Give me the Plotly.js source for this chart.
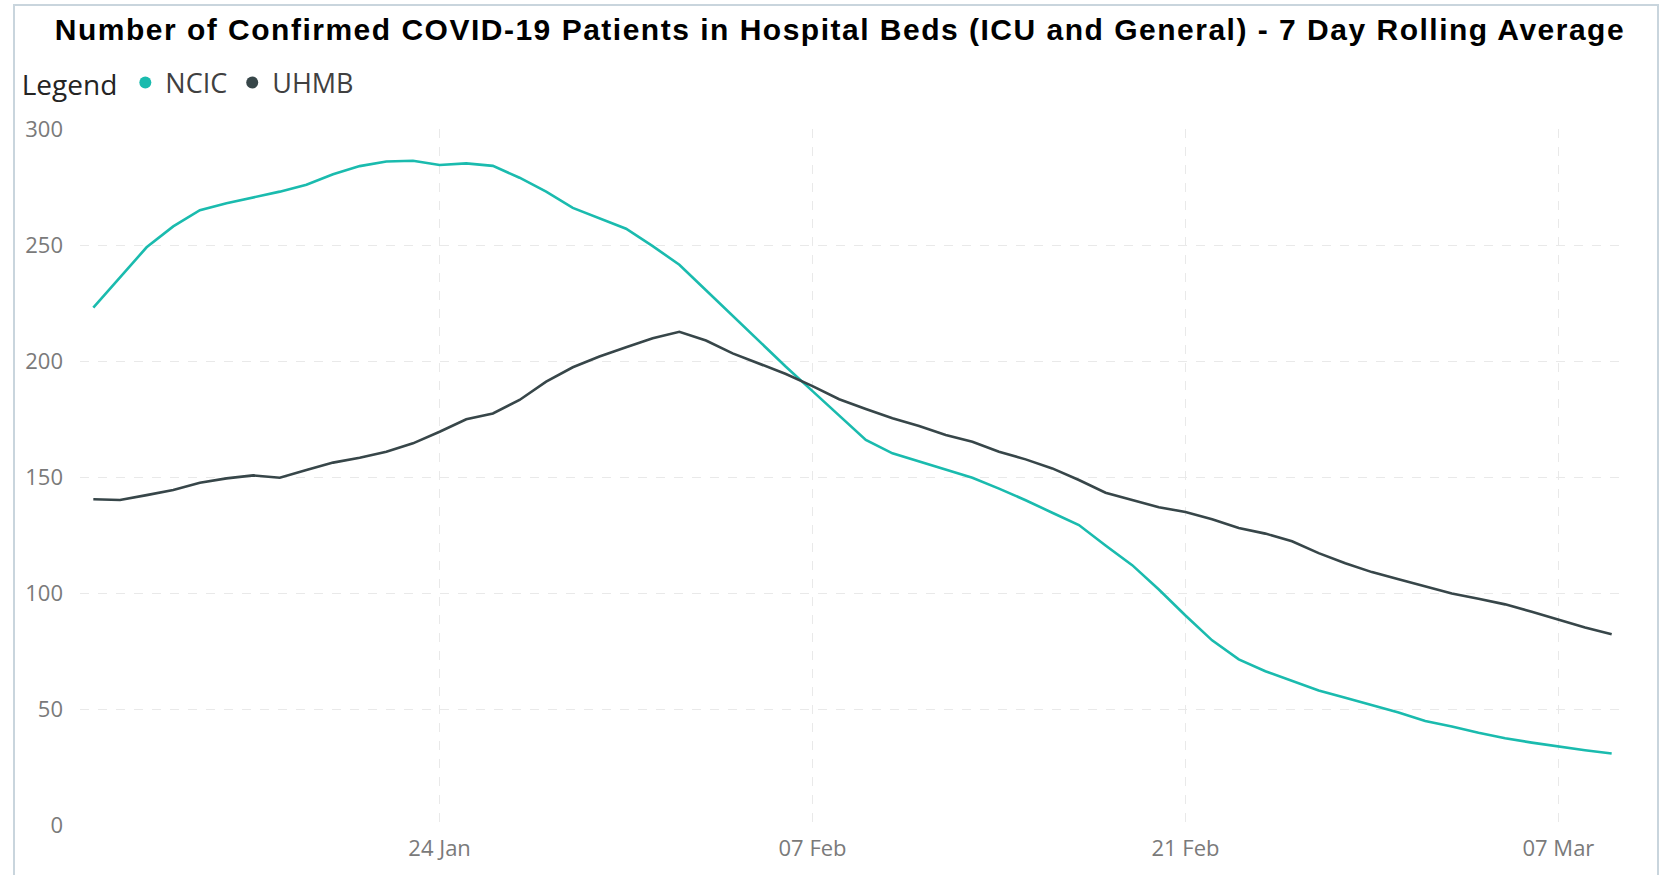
<!DOCTYPE html>
<html>
<head>
<meta charset="utf-8">
<script src="https://cdn.plot.ly/plotly-3.0.1.min.js"></script>
<style>
  html, body { margin: 0; padding: 0; background: #ffffff; overflow: hidden; }
  #chart { width: 1660px; height: 875px; }
  #frame { position: absolute; left: 13px; top: 4px; width: 1642px; height: 900px;
           border: 2px solid #c9d5dd; pointer-events: none; }
  .gtitle { letter-spacing: 1.5px; }
</style>
</head>
<body>
<div id="chart"></div>
<div id="frame"></div>
<script>
const dates = [
  '2021-01-11','2021-01-12','2021-01-13','2021-01-14','2021-01-15','2021-01-16','2021-01-17',
  '2021-01-18','2021-01-19','2021-01-20','2021-01-21','2021-01-22','2021-01-23','2021-01-24',
  '2021-01-25','2021-01-26','2021-01-27','2021-01-28','2021-01-29','2021-01-30','2021-01-31',
  '2021-02-01','2021-02-02','2021-02-03','2021-02-04','2021-02-05','2021-02-06','2021-02-07',
  '2021-02-08','2021-02-09','2021-02-10','2021-02-11','2021-02-12','2021-02-13','2021-02-14',
  '2021-02-15','2021-02-16','2021-02-17','2021-02-18','2021-02-19','2021-02-20','2021-02-21',
  '2021-02-22','2021-02-23','2021-02-24','2021-02-25','2021-02-26','2021-02-27','2021-02-28',
  '2021-03-01','2021-03-02','2021-03-03','2021-03-04','2021-03-05','2021-03-06','2021-03-07',
  '2021-03-08','2021-03-09'
];

const ncic = [
  223, 236, 249, 258, 265, 268, 270.5, 273, 276, 280.5,
  284, 286, 286.3, 284.5, 285.2, 284.1, 279, 273, 266, 261.5,
  257, 249.5, 241.5, 230.5, 219.5, 208.5, 197.5, 187, 176.5, 166,
  160.2, 156.6, 153, 149.7, 145, 140, 134.6, 129.3, 120.5, 112,
  101.5, 90.3, 79.6, 71.4, 66.3, 62, 58, 54.8, 51.6, 48.5,
  44.8, 42.5, 39.8, 37.4, 35.5, 33.8, 32.2, 30.8
];

const uhmb = [
  140.4, 140.1, 142.2, 144.4, 147.5, 149.4, 150.7, 149.7, 153, 156.2,
  158.3, 160.9, 164.5, 169.5, 174.9, 177.4, 183.2, 191.1, 197.3, 201.9,
  205.9, 209.8, 212.6, 208.8, 203.3, 199, 194.4, 189.2, 183.5, 179.3,
  175.3, 172, 168.1, 165.2, 160.9, 157.6, 153.7, 148.7, 143.2, 140.1,
  137, 134.9, 131.8, 128, 125.6, 122.3, 117.2, 112.8, 109, 105.9,
  102.7, 99.8, 97.5, 95.1, 91.9, 88.4, 85.1, 82.2
];

const seriesNames = ['NCIC', 'UHMB'];
const seriesColors = ['#1ABBAE', '#374649'];

const xTickVals = ['2021-01-24', '2021-02-07', '2021-02-21', '2021-03-07'];
const xTickText = ['24 Jan', '07 Feb', '21 Feb', '07 Mar'];
const yTickVals = [0, 50, 100, 150, 200, 250, 300];

const titleText = 'Number of Confirmed COVID-19 Patients in Hospital Beds (ICU and General) - 7 Day Rolling Average';
const legendTitle = 'Legend';

const uiFont = "'Segoe UI', 'Open Sans', sans-serif";

const traces = [
  { x: dates, y: ncic, name: seriesNames[0], type: 'scatter', mode: 'lines',
    line: { color: seriesColors[0], width: 2.6 }, showlegend: false },
  { x: dates, y: uhmb, name: seriesNames[1], type: 'scatter', mode: 'lines',
    line: { color: seriesColors[1], width: 2.6 }, showlegend: false },
  { x: [null], y: [null], name: seriesNames[0], type: 'scatter', mode: 'markers',
    marker: { color: seriesColors[0], size: 12 }, hoverinfo: 'skip' },
  { x: [null], y: [null], name: seriesNames[1], type: 'scatter', mode: 'markers',
    marker: { color: seriesColors[1], size: 12 }, hoverinfo: 'skip' }
];

const layout = {
  width: 1660, height: 875,
  paper_bgcolor: '#ffffff', plot_bgcolor: '#ffffff',
  margin: { l: 80, r: 35, t: 129, b: 50 },
  title: {
    text: '<b>' + titleText + '</b>',
    font: { family: "'Liberation Sans', Arial, sans-serif", size: 30, color: '#000000' },
    x: 0.506, xanchor: 'center', xref: 'container',
    y: 1 - 29 / 875, yanchor: 'middle', yref: 'container'
  },
  showlegend: true,
  legend: {
    orientation: 'h',
    x: -0.039, xanchor: 'left',
    y: (825 - 83) / 696, yanchor: 'middle',
    title: { text: legendTitle, font: { family: uiFont, size: 28, color: '#252423' }, side: 'left' },
    font: { family: uiFont, size: 27, color: '#404040' },
    itemwidth: 30,
    bgcolor: 'rgba(0,0,0,0)'
  },
  xaxis: {
    type: 'date',
    range: ['2021-01-10 12:00', '2021-03-09 12:00'],
    tickvals: xTickVals, ticktext: xTickText,
    showgrid: true, gridcolor: '#e9e9e9', griddash: 'dash', gridwidth: 1,
    zeroline: false, showline: false, ticks: '',
    tickfont: { family: uiFont, size: 22, color: '#7a7a7a' },
    ticklabelstandoff: 8
  },
  yaxis: {
    range: [0, 300],
    tickvals: yTickVals,
    showgrid: true, gridcolor: '#e9e9e9', griddash: 'dash', gridwidth: 1,
    zeroline: false, showline: false, ticks: '',
    tickfont: { family: uiFont, size: 22, color: '#7a7a7a' },
    ticklabelstandoff: 16
  },
  hovermode: false
};

Plotly.newPlot('chart', traces, layout, { displayModeBar: false, staticPlot: true });
</script>
</body>
</html>
